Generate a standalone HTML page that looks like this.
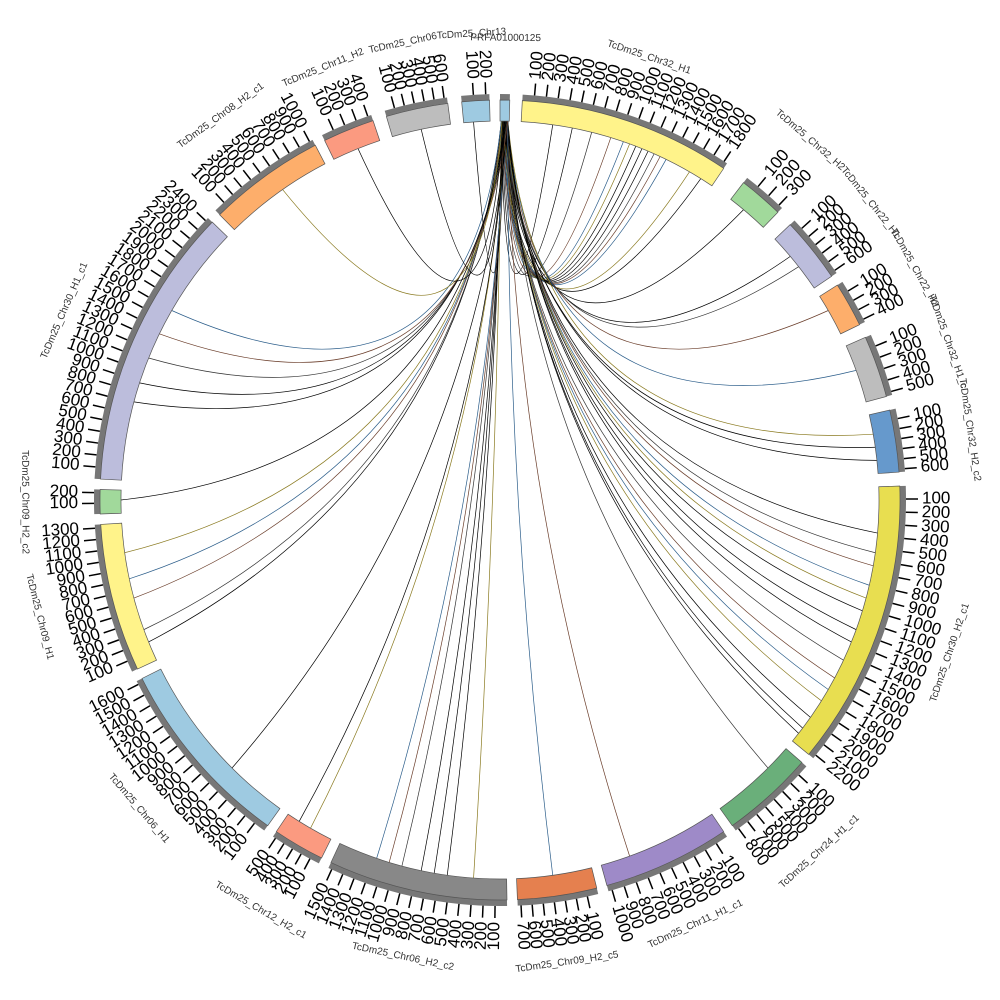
<!DOCTYPE html>
<html><head><meta charset="utf-8"><style>
html,body{margin:0;padding:0;background:#fff;width:1000px;height:1000px;overflow:hidden}
svg{display:block}
text{font-family:"Liberation Sans",sans-serif}
</style></head><body>
<svg id="s" width="1000" height="1000" viewBox="0 0 1000 1000" xmlns="http://www.w3.org/2000/svg">
<rect width="1000" height="1000" fill="#fff"/>
<g id="links"></g><g id="segs"></g><g id="ticks"></g>
</svg>
<script>
var cx=500,cy=500,Ri=379,Ro=400,Rg=406,Rt=418,Rl=422;
function P(r,a){var t=a*Math.PI/180;return [cx+r*Math.sin(t),cy-r*Math.cos(t)];}
var segs=[
["PRFA01000125",0,1.4,"#9ecae1",0],
["TcDm25_Chr32_H1",3.2,34,"#fff38a",18],
["TcDm25_Chr32_H2",37.5,44,"#a1d99b",3],
["TcDm25_Chr22_H1",46.5,56,"#bcbddc",6],
["TcDm25_Chr22_H2",57.5,64,"#fdae6b",4],
["TcDm25_Chr32_H1_c",66,75,"#bdbdbd",5],
["TcDm25_Chr32_H2_c2",77,86,"#6699cc",6],
["TcDm25_Chr30_H2_c1",88,129.5,"#e8de50",22],
["TcDm25_Chr24_H1_c1",131,144.5,"#6aaf7a",8],
["TcDm25_Chr11_H1_c1",146,164.5,"#9e8ac8",10],
["TcDm25_Chr09_H2_c5",166,177.5,"#e5804f",7],
["TcDm25_Chr06_H2_c2",179,205,"#888888",15],
["TcDm25_Chr12_H2_c1",206.5,214,"#fb9a80",5],
["TcDm25_Chr06_H1",215.5,243.5,"#9ecae1",16],
["TcDm25_Chr09_H1",245,266.5,"#fff38a",13],
["TcDm25_Chr09_H2_c2",268,271.5,"#a1d99b",2],
["TcDm25_Chr30_H1_c1",273,314,"#bcbddc",24],
["TcDm25_Chr08_H2_c1",315.5,332.5,"#fdae6b",10],
["TcDm25_Chr11_H2",334,341.5,"#fb9a80",4],
["TcDm25_Chr06",343.5,352.5,"#bdbdbd",6],
["TcDm25_Chr13",354.5,358.5,"#9ecae1",2]];
var NS="http://www.w3.org/2000/svg";
function el(n,a,p,txt){var e=document.createElementNS(NS,n);for(var k in a)e.setAttribute(k,a[k]);if(txt!=null)e.textContent=txt;document.getElementById(p).appendChild(e);return e;}
function arc(r1,r2,a1,a2){var p1=P(r2,a1),p2=P(r2,a2),p3=P(r1,a2),p4=P(r1,a1);var l=(a2-a1)>180?1:0;
return "M"+p1+" A"+r2+" "+r2+" 0 "+l+" 1 "+p2+" L"+p3+" A"+r1+" "+r1+" 0 "+l+" 0 "+p4+"Z";}
segs.forEach(function(s){
 el("path",{d:arc(Ro,Rg,s[1],s[2]),fill:"#777"},"segs");
 el("path",{d:arc(Ri,Ro,s[1],s[2]),fill:s[3],stroke:"#555","stroke-width":0.7},"segs");
 var n=s[4]; if(s[0]=="PRFA01000125")n=0;
 var sp=(s[2]-s[1])/(n+0.3);
 for(var i=1;i<=n;i++){var a=s[1]+i*sp;var q1=P(Rg,a),q2=P(Rt,a);
  el("line",{x1:q1[0],y1:q1[1],x2:q2[0],y2:q2[1],stroke:"#000","stroke-width":1.5},"ticks");
  var lp=P(Rl,a);var rot=a-90;var anchor="start";
  if(a>180){rot=a+90;anchor="end";}
  el("text",{x:lp[0],y:lp[1],"font-size":17,"text-anchor":anchor,"dominant-baseline":"middle",fill:"#000",transform:"rotate("+rot+" "+lp[0]+" "+lp[1]+")"},"ticks",String(i*100));}
 var m=(s[1]+s[2])/2;var nr=n>0?475-(Math.abs(Math.sin(m*Math.PI/180))<0.5?8:0):462;
 var np=P(nr,m);var r2=m;if(m>90&&m<270)r2=m+180;
 el("text",{x:np[0],y:np[1],"font-size":10,"text-anchor":"middle","dominant-baseline":"middle",fill:"#333",transform:"rotate("+r2+" "+np[0]+" "+np[1]+")"},"ticks",s[0]);
});
var tg=[8,11,14,17,19,20,21,22,23,24,25,26,30,32,40,50,52,60,70,80,82,84,95,98,100,103,105,107,110,112,115,118,120,122,125,127,128,135,160,172,184,188,190,192,195,197,199,210,212,225,248,250,255,258,262,270,285,288,292,296,300,325,338,348,356];
var cols=["#000","#000","#333","#6a3d2a","#2b5d8a","#8a7a20","#000"];
tg.forEach(function(a,i){var s=P(Ri,0.2+(i%10)*0.11);var t=P(Ri,a);
 var c=[cx+(s[0]-cx)*0.1+(t[0]-cx)*0.1,cy+(s[1]-cy)*0.1+(t[1]-cy)*0.1];
 el("path",{d:"M"+s+" Q"+c+" "+t,fill:"none",stroke:cols[i%7],"stroke-width":0.7},"links");});
</script>
</body></html>
